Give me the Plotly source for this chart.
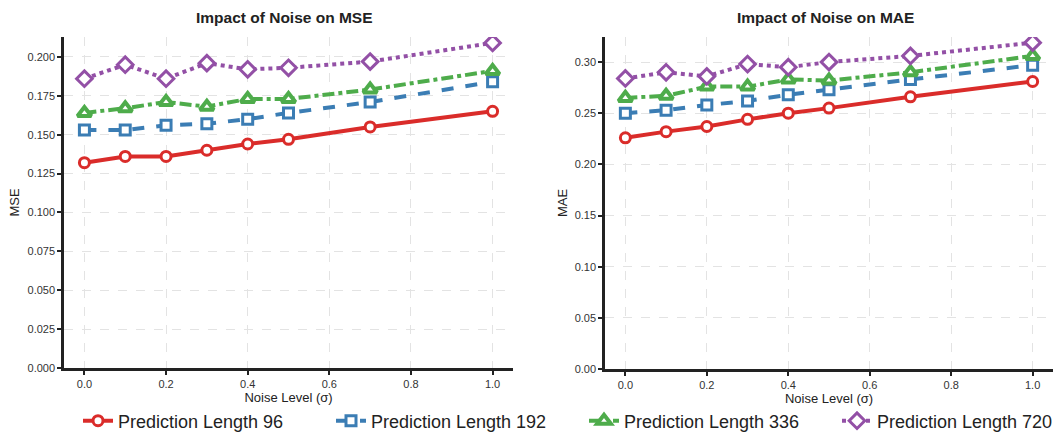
import plotly.graph_objects as go

noise = [0.0, 0.1, 0.2, 0.3, 0.4, 0.5, 0.7, 1.0]
series_names = ["Prediction Length 96", "Prediction Length 192", "Prediction Length 336", "Prediction Length 720"]

mse_96 = [0.132, 0.136, 0.136, 0.140, 0.144, 0.147, 0.155, 0.165]
mse_192 = [0.153, 0.153, 0.156, 0.157, 0.160, 0.164, 0.171, 0.184]
mse_336 = [0.164, 0.167, 0.171, 0.168, 0.173, 0.173, 0.179, 0.191]
mse_720 = [0.186, 0.195, 0.186, 0.196, 0.192, 0.193, 0.197, 0.209]

mae_96 = [0.226, 0.232, 0.237, 0.244, 0.250, 0.255, 0.266, 0.281]
mae_192 = [0.250, 0.253, 0.258, 0.262, 0.268, 0.273, 0.283, 0.297]
mae_336 = [0.265, 0.267, 0.276, 0.276, 0.283, 0.282, 0.290, 0.306]
mae_720 = [0.284, 0.290, 0.286, 0.298, 0.295, 0.300, 0.306, 0.319]

mse_ticks = [0.000, 0.025, 0.050, 0.075, 0.100, 0.125, 0.150, 0.175, 0.200]
mae_ticks = [0.00, 0.05, 0.10, 0.15, 0.20, 0.25, 0.30]
x_ticks = [0.0, 0.2, 0.4, 0.6, 0.8, 1.0]

colors = ["#da2c2a", "#3b7db4", "#4eac4b", "#9350a6"]
dashes = ["solid", "dash", "dashdot", "dot"]
symbols = ["circle", "square", "triangle-up", "diamond"]
sizes = [10, 10, 12, 12]
mlw = [3, 3, 4, 3]

W, H = 1053, 432
FONT = "Liberation Sans, Arial, sans-serif"
fig = go.Figure()

mse_all = [mse_96, mse_192, mse_336, mse_720]
mae_all = [mae_96, mae_192, mae_336, mae_720]

for i in range(4):
    for j, (data, xa, ya) in enumerate([(mse_all[i], "x", "y"), (mae_all[i], "x2", "y2")]):
        fig.add_trace(go.Scatter(
            x=noise, y=data, xaxis=xa, yaxis=ya,
            mode="lines+markers",
            name=series_names[i],
            legendgroup=series_names[i],
            showlegend=(j == 0),
            line=dict(color=colors[i], width=4, dash=dashes[i]),
            marker=dict(symbol=symbols[i], size=sizes[i], color="white",
                        line=dict(color=colors[i], width=mlw[i])),
        ))

def px_x(a, b):
    return [a / W, min(b / W, 1.0)]

def px_y(top, bottom):
    return [(H - bottom) / H, (H - top) / H]

axis_common = dict(
    showline=True, linecolor="#222222", linewidth=2.5, mirror=False,
    ticks="outside", ticklen=4, tickwidth=1.5, tickcolor="#222222",
    showgrid=True, gridcolor="#e3e3e3", griddash="dash", gridwidth=1,
    zeroline=False, automargin=False,
    tickfont=dict(family=FONT, size=11, color="#333333"),
    title_font=dict(family=FONT, size=13, color="#222222"),
)

fig.update_layout(
    width=W, height=H,
    margin=dict(l=0, r=0, t=0, b=0, autoexpand=False),
    paper_bgcolor="white", plot_bgcolor="white",
    font=dict(family=FONT, color="#222222"),
    xaxis=dict(domain=px_x(64, 513), range=[-0.05, 1.05], tickvals=x_ticks,
               ticktext=[f"{v:.1f}" for v in x_ticks], anchor="y",
               title=dict(text="Noise Level (σ)", standoff=3), **axis_common),
    yaxis=dict(domain=px_y(37, 368), range=[0, 0.2128], tickvals=mse_ticks,
               ticktext=[f"{v:.3f}" for v in mse_ticks], anchor="x",
               title=dict(text="MSE", standoff=5), **axis_common),
    xaxis2=dict(domain=px_x(605, 1053), range=[-0.05, 1.05], tickvals=x_ticks,
                ticktext=[f"{v:.1f}" for v in x_ticks], anchor="y2",
                title=dict(text="Noise Level (σ)", standoff=3), **axis_common),
    yaxis2=dict(domain=px_y(37, 369), range=[0, 0.3245], tickvals=mae_ticks,
                ticktext=[f"{v:.2f}" for v in mae_ticks], anchor="x2",
                title=dict(text="MAE", standoff=5), **axis_common),
    legend=dict(orientation="h", x=78 / W, xanchor="left", y=(H - 421) / H, yanchor="middle",
                font=dict(family=FONT, size=18, color="#222222"),
                entrywidth=208, entrywidthmode="pixels", itemsizing="trace",
                bgcolor="rgba(0,0,0,0)"),
    showlegend=True,
)

fig.add_annotation(text="<b>Impact of Noise on MSE</b>", x=284 / W, y=(H - 17) / H,
                   xref="paper", yref="paper", showarrow=False,
                   xanchor="center", yanchor="middle",
                   font=dict(family=FONT, size=15.5, color="#222222"))
fig.add_annotation(text="<b>Impact of Noise on MAE</b>", x=825 / W, y=(H - 17) / H,
                   xref="paper", yref="paper", showarrow=False,
                   xanchor="center", yanchor="middle",
                   font=dict(family=FONT, size=15.5, color="#222222"))

fig.write_html("out.html", config={"displayModeBar": False},
               post_script="document.body.style.margin='0';document.body.style.overflow='hidden';")
